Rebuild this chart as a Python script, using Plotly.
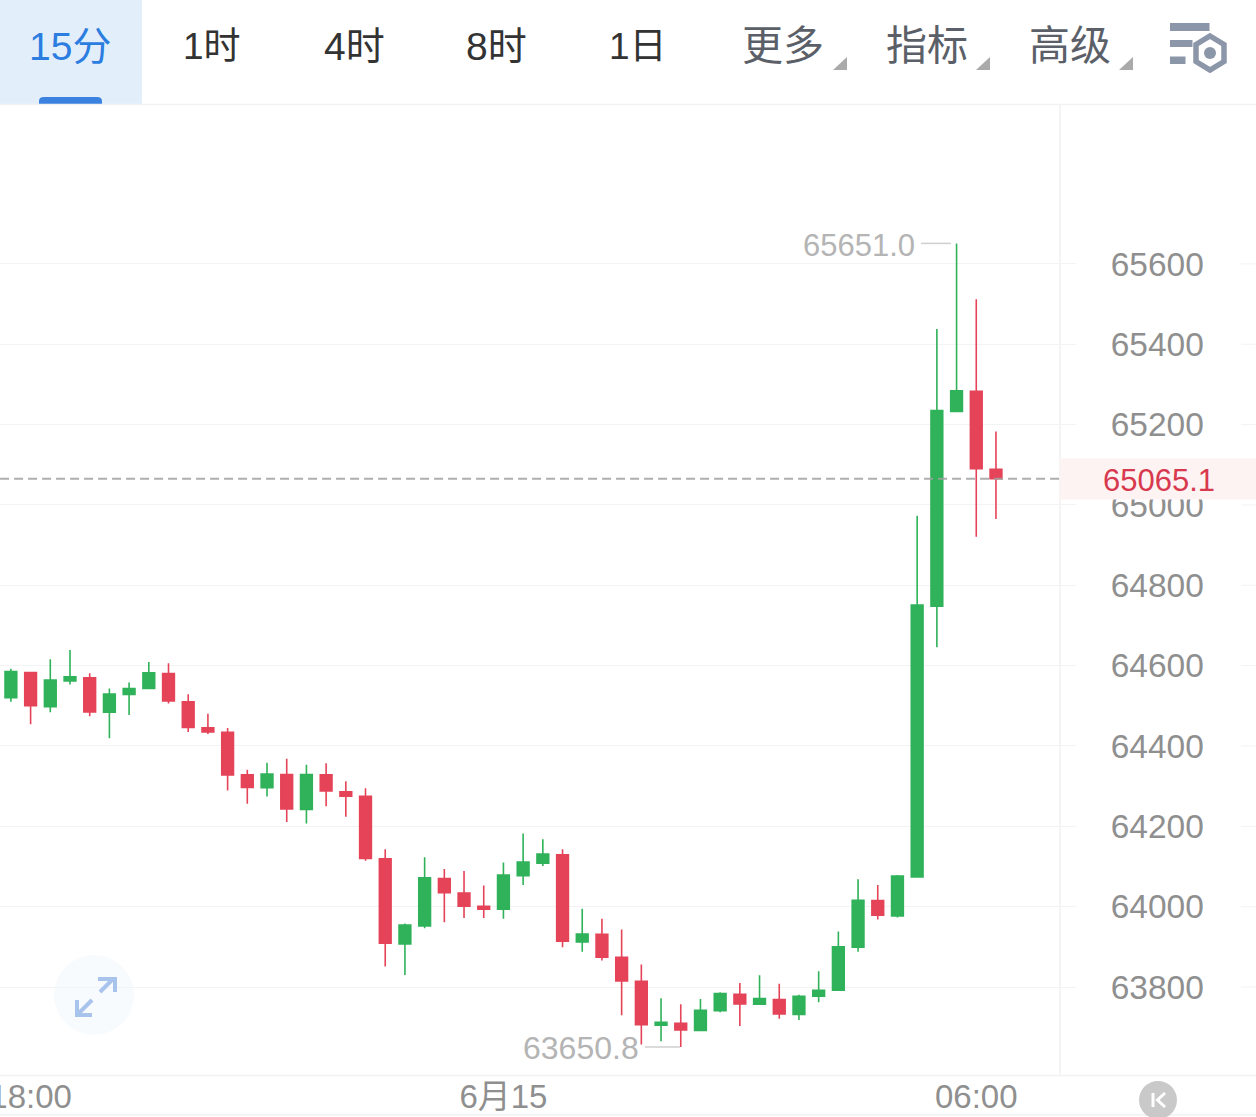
import plotly.graph_objects as go

# ---------- data ----------
direction = ["G","R","G","G","R","G","G","G","R","R","R","R","R","G","R","G","R","R","R","R",
             "G","G","R","R","R","G","G","G","R","G","R","R","R","G","R","G","G","R","G","R",
             "G","G","G","G","R","G","G","G","G","R","R"]
highs = [64592,64584,64616,64639,64581,64543,64558,64609,64606,64529,64480,64445,64341,64358,64368,64353,64357,64312,64295,64143,
         63958,64123,64094,64089,64053,64110,64182,64168,64143,63995,63970,63943,63856,63772,63757,63770,63787,63810,63829,63808,
         63781,63839,63938,64068,64054,64079,64973,65438,65651.0,65512,65183]
tops = [64585,64583,64564,64572,64570,64529,64543,64582,64580,64510,64445,64434,64328,64330,64329,64329,64328,64286,64275,64119,
        63954,64072,64070,64034,64001,64079,64111,64131,64129,63932,63931,63874,63814,63712,63710,63742,63784,63782,63771,63769,
        63777,63792,63900,64016,64015,64076,64751,65235,65284,65283,65089]
bottoms = [64520,64500,64498,64562,64485,64484,64528,64543,64512,64446,64435,64328,64297,64296,64243,64242,64288,64275,64120,63909,
           63907,63952,64035,64001,63994,63994,64077,64108,63914,63912,63874,63815,63706,63705,63693,63692,63741,63758,63757,63733,
           63732,63777,63792,63899,63979,63977,64074,64748,65233,65090,65065.1]
lows = [64510,64454,64484,64553,64474,64419,64477,64543,64506,64435,64430,64289,64256,64274,64211,64207,64250,64224,64114,63851,
        63830,63946,63961,63972,63972,63970,64054,64101,63899,63888,63866,63730,63657,63665,63650.8,63692,63737,63703,63757,63721,
        63718,63762,63792,63888,63968,63973,64074,64646,65233,64921,64965]
y_ticks = [63800,64000,64200,64400,64600,64800,65000,65200,65400,65600]
x_tick_pos = [1,25,49]
x_tick_labels = ["18:00","6月15","06:00"]
last_price = 65065.1
high_price = 65651.0
low_price = 63650.8
time_tabs = [("15分",69.5,"#2b7de0",39),("1时",212,"#333333",37),("4时",354,"#333333",39),("8时",496.5,"#333333",39),("1日",638,"#333333",37),
             ("更多",783,"#5b6068",41),("指标",927,"#5b6068",41),("高级",1070,"#5b6068",41)]

W, H = 1256, 1117
GREEN, RED = "#2fb259", "#e54358"
GRID = "#f3f3f3"
FONT = "Liberation Sans, Noto Sans CJK SC, sans-serif"
px = lambda v: v / W
py = lambda v: 1 - v / H
n = len(direction)
x = list(range(n))
opens = [b if d == "G" else t for d, t, b in zip(direction, tops, bottoms)]
closes = [t if d == "G" else b for d, t, b in zip(direction, tops, bottoms)]

fig = go.Figure(go.Candlestick(
    x=x, open=opens, high=highs, low=lows, close=closes,
    increasing=dict(line=dict(color=GREEN, width=1.6), fillcolor=GREEN),
    decreasing=dict(line=dict(color=RED, width=1.6), fillcolor=RED),
    whiskerwidth=0, hoverinfo="skip", showlegend=False,
))

shapes = []
def rect(x0, y0, x1, y1, fill, layer="above"):
    shapes.append(dict(type="rect", xref="paper", yref="paper", x0=px(x0), x1=px(x1), y0=py(y0), y1=py(y1),
                       fillcolor=fill, line_width=0, layer=layer))
def hline(x0, x1, y, color, w=1.5):
    shapes.append(dict(type="line", xref="paper", yref="paper", x0=px(x0), x1=px(x1), y0=py(y), y1=py(y),
                       line=dict(color=color, width=w)))
def poly(points, color, w=0, fill=None, close=False):
    # paper-space icon geometry, converted to the figure's pixel space
    path = "M" + " L".join(f"{px(a):.5f},{py(b):.5f}" for a, b in points) + (" Z" if close else "")
    shapes.append(dict(type="path", xref="paper", yref="paper", path=path,
                       fillcolor=fill or "rgba(0,0,0,0)", line=dict(color=color, width=w)))
def circle(cx, cy, r, fill):
    shapes.append(dict(type="circle", xref="paper", yref="paper", x0=px(cx-r), x1=px(cx+r), y0=py(cy-r), y1=py(cy+r),
                       fillcolor=fill, line_width=0))

# header
rect(0, 0, 142, 104, "#e3eefb")
shapes.append(dict(type="path", xref="paper", yref="paper", fillcolor="#3b82e0", line_width=0,
    path=f"M{px(39)},{py(104)} L{px(39)},{py(101)} Q{px(39)},{py(97)} {px(44)},{py(97)} L{px(97)},{py(97)} Q{px(102)},{py(97)} {px(102)},{py(101)} L{px(102)},{py(104)} Z"))
hline(0, W, 104.5, "#f2f2f2", 1.5)
for tx in (833, 976, 1119):
    poly([(tx, 70), (tx+14, 70), (tx+14, 57)], "#aaaaaa", 0, "#aaaaaa", True)
# settings icon
ICON = "#8c96a9"
rect(1170, 23, 1209.5, 31, ICON)
rect(1170, 40, 1192.5, 47, ICON)
rect(1170, 56.5, 1185.5, 64, ICON)
poly([(1210,36),(1224,44.5),(1224,61.5),(1210,70),(1196,61.5),(1196,44.5)], ICON, 5.5, "#ffffff", True)
circle(1210, 53, 6, ICON)

# frame
shapes.append(dict(type="line", xref="paper", yref="paper", x0=px(1060), x1=px(1060), y0=py(104), y1=py(1075),
                   line=dict(color="#f1f1f1", width=1.5)))
hline(0, W, 1075.5, "#f2f2f2", 1.5)
hline(0, W, 1115, "#f2f2f2", 1.5)
# right tick stubs
for v in y_ticks:
    shapes.append(dict(type="line", xref="paper", yref="y", x0=px(1241), x1=1, y0=v, y1=v, line=dict(color=GRID, width=1)))
# last price
shapes.append(dict(type="line", xref="x", yref="y", x0=-0.55, x1=53.25, y0=last_price, y1=last_price,
                   line=dict(color="rgba(160,160,160,0.85)", width=2, dash="9px,5px")))
rect(1060, 458.5, W, 499.5, "#fdf3f2")
# hi / lo leader lines
shapes.append(dict(type="line", xref="paper", yref="y", x0=px(921), x1=px(951), y0=high_price, y1=high_price, line=dict(color="#cfcfcf", width=1.5)))
shapes.append(dict(type="line", xref="paper", yref="y", x0=px(645), x1=px(680), y0=low_price, y1=low_price, line=dict(color="#cfcfcf", width=1.5)))

# expand button
circle(94, 995, 40, "rgba(238,245,253,0.4)")
ARW = "#a9c4ec"
poly([(100,992),(113,979)], ARW, 4)
poly([(98,979),(115,979),(115,992)], ARW, 4)
poly([(92,1000),(78,1014)], ARW, 4)
poly([(77,1000),(77,1015),(92,1015)], ARW, 4)
# jump-to-latest button
circle(1158, 1100, 19, "#c9c9c9")
poly([(1153,1093),(1153,1107)], "#ffffff", 3)
poly([(1165,1093),(1157.5,1100),(1165,1107)], "#ffffff", 3)

annotations = []
def label(text, xx, yy, size, color, anchor="center", yref="paper"):
    annotations.append(dict(text=text, xref="paper", yref=yref, x=px(xx), y=yy, xanchor=anchor, yanchor="middle",
                            showarrow=False, font=dict(family=FONT, size=size, color=color)))
for text, cx, col, fs in time_tabs:
    label(text, cx, py(46), fs, col)
label(f"{last_price:.1f}", 1158.5, py(480), 31, "#d8394e")
label(f"{high_price:.1f}", 917, py(245), 31, "#b4b4b4", "right")
label(f"{low_price:.1f}", 641, py(1048), 32, "#b4b4b4", "right")

fig.update_layout(
    width=W, height=H, margin=dict(l=0, r=0, t=0, b=0, autoexpand=False), paper_bgcolor="#ffffff", plot_bgcolor="#ffffff",
    shapes=shapes, annotations=annotations, boxgap=0.15, boxgroupgap=0.3, showlegend=False, hovermode=False,
    xaxis=dict(domain=[0, 1060/W], range=[-0.553, 53.25], rangeslider=dict(visible=False), showgrid=False, zeroline=False,
               tickmode="array", tickvals=x_tick_pos, ticktext=x_tick_labels, ticks="", showline=False,
               ticklabeloverflow="allow", tickangle=0, ticklabelstandoff=-1, tickfont=dict(family=FONT, size=33, color="#8f8f8f")),
    yaxis=dict(domain=[1-1075/H, 1-104/H], range=[63581, 65998], side="right", showgrid=True, gridcolor=GRID, gridwidth=1,
               zeroline=False, tickmode="array", tickvals=y_ticks, ticktext=[str(v) for v in y_ticks], ticks="outside",
               ticklen=15, tickcolor=GRID, tickwidth=1, showline=False, ticklabelstandoff=28, ticklabeloverflow="allow",
               tickfont=dict(family=FONT, size=33.5, color="#8f8f8f")),
)
fig.write_html("out.html", config=dict(displayModeBar=False, staticPlot=True),
               post_script="document.body.style.margin='0';document.body.style.overflow='hidden';")
